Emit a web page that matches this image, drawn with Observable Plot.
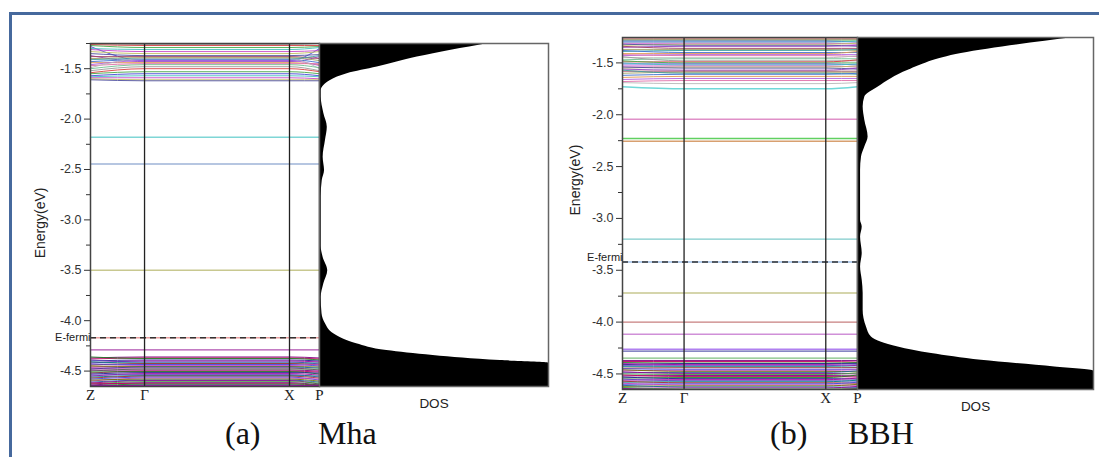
<!DOCTYPE html>
<html>
<head>
<meta charset="utf-8">
<script src="https://cdn.jsdelivr.net/npm/d3@7"></script>
<script src="https://cdn.jsdelivr.net/npm/@observablehq/plot@0.6"></script>
<style>
  html, body { margin: 0; padding: 0; background: #fff; }
  #root { position: relative; width: 1099px; height: 457px; overflow: hidden; background: #fff; }
  .frame-top { position: absolute; left: 9px; top: 12px; width: 1100px; height: 3px; background: #46699d; }
  .frame-left { position: absolute; left: 9px; top: 12px; width: 3px; height: 460px; background: #46699d; }
  .pl { position: absolute; top: 0; }
  .cap { position: absolute; font-family: "Liberation Serif", "Times New Roman", serif; font-size: 32px; line-height: 32px; color: #111; white-space: nowrap; }
</style>
</head>
<body>
<div id="root">
  <div class="frame-top"></div>
  <div class="frame-left"></div>
</div>
<script>
// ---------- data ----------
const kLabels = ["Z", "Γ", "X", "P"];
const kPosMha = [0, 0.236, 0.869, 1];
const kPosBbh = [0, 0.262, 0.865, 1];
const yTicks = [-4.5, -4.0, -3.5, -3.0, -2.5, -2.0, -1.5];
const yMinorTicks = [-4.75, -4.25, -3.75, -3.25, -2.75, -2.25, -1.75, -1.25];

const fermiMha = -4.17;
const fermiBbh = -3.42;

// bands: energy at Z, at Γ (= X, flat Γ–X), at P
const mhaBandsUpper = [
  [-1.25,-1.26,-1.25],[-1.26,-1.27,-1.27],[-1.27,-1.29,-1.28],[-1.28,-1.42,-1.30],
  [-1.30,-1.31,-1.29],[-1.31,-1.33,-1.32],[-1.33,-1.35,-1.33],[-1.35,-1.37,-1.36],
  [-1.37,-1.43,-1.38],[-1.38,-1.38,-1.40],[-1.40,-1.39,-1.42],[-1.41,-1.40,-1.37],
  [-1.43,-1.41,-1.44],[-1.44,-1.44,-1.46],[-1.46,-1.42,-1.47],[-1.47,-1.45,-1.45],
  [-1.49,-1.40,-1.50],[-1.50,-1.46,-1.49],[-1.52,-1.48,-1.52],[-1.54,-1.50,-1.53],
  [-1.55,-1.53,-1.55],[-1.57,-1.55,-1.57],[-1.58,-1.57,-1.58],[-1.59,-1.59,-1.60],
  [-1.60,-1.61,-1.61],[-1.61,-1.62,-1.62]
];
const mhaBandsLower = [
  [-4.37,-4.36,-4.37],[-4.38,-4.37,-4.38],[-4.36,-4.375,-4.39],[-4.40,-4.39,-4.40],
  [-4.42,-4.40,-4.41],[-4.39,-4.41,-4.43],[-4.41,-4.42,-4.42],[-4.44,-4.425,-4.44],
  [-4.43,-4.435,-4.45],[-4.46,-4.445,-4.43],[-4.45,-4.455,-4.46],[-4.48,-4.46,-4.47],
  [-4.47,-4.47,-4.49],[-4.50,-4.48,-4.48],[-4.49,-4.49,-4.50],[-4.52,-4.50,-4.51],
  [-4.51,-4.505,-4.53],[-4.53,-4.515,-4.52],[-4.55,-4.525,-4.54],[-4.54,-4.535,-4.56],
  [-4.56,-4.545,-4.55],[-4.57,-4.55,-4.57],[-4.58,-4.56,-4.59],[-4.60,-4.57,-4.58],
  [-4.59,-4.58,-4.60],[-4.61,-4.59,-4.61],[-4.62,-4.595,-4.63],[-4.63,-4.605,-4.62],
  [-4.64,-4.615,-4.64],[-4.62,-4.625,-4.645],[-4.645,-4.63,-4.63],[-4.65,-4.64,-4.65],
  [-4.64,-4.645,-4.64]
];
const mhaIsolated = [-2.18, -2.445, -3.50, -4.17, -4.29];

const bbhBandsUpper = [
  [-1.26,-1.26,-1.26],[-1.27,-1.27,-1.27],[-1.28,-1.28,-1.28],[-1.29,-1.29,-1.30],
  [-1.30,-1.30,-1.29],[-1.31,-1.31,-1.32],[-1.33,-1.32,-1.31],[-1.32,-1.33,-1.34],
  [-1.35,-1.34,-1.33],[-1.34,-1.36,-1.36],[-1.37,-1.37,-1.38],[-1.39,-1.38,-1.37],
  [-1.38,-1.40,-1.40],[-1.41,-1.41,-1.39],[-1.43,-1.42,-1.42],[-1.42,-1.43,-1.44],
  [-1.45,-1.45,-1.43],[-1.47,-1.46,-1.46],[-1.44,-1.48,-1.48],[-1.49,-1.49,-1.47],
  [-1.48,-1.50,-1.50],[-1.51,-1.51,-1.52],[-1.50,-1.52,-1.51],[-1.53,-1.53,-1.54],
  [-1.55,-1.54,-1.53],[-1.54,-1.55,-1.56],[-1.56,-1.57,-1.55],[-1.58,-1.58,-1.58],
  [-1.60,-1.59,-1.59],[-1.57,-1.60,-1.61],[-1.62,-1.61,-1.60],[-1.64,-1.63,-1.63],
  [-1.66,-1.65,-1.65],[-1.68,-1.67,-1.67],[-1.69,-1.70,-1.69]
];
const bbhBandsLower = [
  [-4.37,-4.37,-4.37],[-4.38,-4.38,-4.385],[-4.39,-4.395,-4.39],[-4.41,-4.40,-4.40],
  [-4.40,-4.41,-4.42],[-4.42,-4.42,-4.41],[-4.43,-4.43,-4.435],[-4.445,-4.44,-4.44],
  [-4.45,-4.455,-4.455],[-4.47,-4.465,-4.46],[-4.46,-4.475,-4.48],[-4.49,-4.485,-4.47],
  [-4.48,-4.495,-4.50],[-4.50,-4.505,-4.49],[-4.52,-4.515,-4.52],[-4.51,-4.525,-4.53],
  [-4.54,-4.535,-4.51],[-4.53,-4.545,-4.55],[-4.56,-4.555,-4.54],[-4.55,-4.565,-4.57],
  [-4.58,-4.575,-4.56],[-4.57,-4.585,-4.59],[-4.60,-4.595,-4.58],[-4.59,-4.605,-4.61],
  [-4.62,-4.615,-4.60],[-4.61,-4.625,-4.63],[-4.64,-4.635,-4.62],[-4.63,-4.645,-4.64],
  [-4.645,-4.65,-4.645]
];
const bbhIsolatedZ = [-1.73, -2.043, -2.229, -2.255, -3.20, -3.42, -3.719, -4.00, -4.117, -4.262, -4.28, -4.347];
const bbhIsolatedG = [-1.75, -2.043, -2.229, -2.255, -3.20, -3.42, -3.719, -4.00, -4.117, -4.262, -4.28, -4.347];

// density of states (arbitrary units 0–100) versus energy
const mhaDosE = [-4.653,-4.42,-4.396,-4.346,-4.297,-4.228,-4.13,-4.03,-3.932,-3.77,-3.634,-3.504,-3.372,-3.265,-2.769,-2.61,-2.51,-2.378,-2.212,-2.08,-1.944,-1.782,-1.716,-1.666,-1.616,-1.55,-1.484,-1.385,-1.25];
const mhaDosV = [100,100,79,49.6,29.4,16.2,6.2,2.6,1.1,0.75,1.9,3.6,1.6,0.75,0.75,1.2,2.2,1.6,2.6,3.4,1.9,0.75,0.75,1.9,4.8,12.1,25.2,42.7,73.8];
const bbhDosE = [-4.65,-4.471,-4.432,-4.368,-4.303,-4.24,-4.143,-4.047,-3.886,-3.722,-3.596,-3.468,-3.336,-3.178,-3.082,-3.017,-2.535,-2.407,-2.31,-2.214,-2.053,-1.924,-1.828,-1.732,-1.57,-1.409,-1.255];
const bbhDosV = [100,100,83.6,52.5,31.4,17.2,5.9,3.8,2.4,2.4,2.0,1.3,2.0,1.3,2.0,1.3,1.3,1.7,3.1,4.5,3.1,2.4,3.1,8.8,21.5,44,92];

// ---------- styles ----------
const paletteUpper = ["#9a9a9a","#d84040","#48a848","#4848d8","#48c0c0","#c848c8","#c0c060","#5050a0",
                      "#9040c0","#a04060","#a0a060","#40a0a0","#4070d0","#e09a50","#b060e0","#e070a8",
                      "#b8b8b8","#70c090"];
const paletteLower = ["#800080","#c00060","#208020","#202090","#a000a0","#6040c0","#008080","#a03030",
                      "#4040e0","#c040c0","#707000","#2060a0","#900090","#40a040"];
const mhaIsoColors = ["#7fd6d6","#9fb4d8","#c8c890","#e8a0a0","#b050b0"];
const bbhIsoColors = ["#70d8d8","#e090c8","#60d060","#d8a070","#80cccc","#a0c0e8","#c8c890","#c88080","#d090d8","#b080f0","#6060b0","#80c080"];

const sans = "'Liberation Sans', Arial, sans-serif";
const serif = "'Liberation Serif', 'Times New Roman', serif";

function buildPoints(upper, lower, isoZ, isoG, isoColors, kPos) {
  const pts = [];
  let id = 0;
  const addBand = (b, c, w) => {
    [b[0], b[1], b[1], b[2]].forEach((e, j) => pts.push({id, k: kPos[j], e, c, w}));
    id++;
  };
  upper.forEach((b, i) => addBand(b, paletteUpper[i % paletteUpper.length], 1));
  lower.forEach((b, i) => addBand(b, paletteLower[i % paletteLower.length], 1));
  isoZ.forEach((ez, i) => addBand([ez, isoG[i], ez], isoColors[i], 1.4));
  return pts;
}

function bandPlot({pts, kPos, fermi, width, marginLeft, marginTop, plotH, yDomain, labelE, labelDx, fermiDy}) {
  const kMap = new Map(kPos.map((k, i) => [k, kLabels[i]]));
  return Plot.plot({
    width, height: marginTop + plotH + 30,
    marginLeft, marginRight: 1, marginTop, marginBottom: 30,
    style: {fontFamily: sans, fontSize: "12.5px", color: "#333", background: "none", overflow: "visible"},
    color: {type: "identity"},
    x: {domain: [0, 1], axis: null},
    y: {domain: yDomain, axis: null},
    marks: [
      Plot.line(pts.filter(d => d.w === 1), {x: "k", y: "e", z: "id", stroke: "c", strokeWidth: 1, strokeOpacity: 0.9, curve: "monotone-x"}),
      Plot.line(pts.filter(d => d.w !== 1), {x: "k", y: "e", z: "id", stroke: "c", strokeWidth: 1.4, curve: "monotone-x"}),
      Plot.ruleY([fermi], {stroke: "#333", strokeWidth: 1.5, strokeDasharray: "6,4"}),
      Plot.ruleX(kPos.slice(1, 3), {stroke: "#222", strokeWidth: 1.3}),
      Plot.frame({stroke: "#444", strokeWidth: 1.5}),
      Plot.axisY(yTicks, {tickSize: 6, tickPadding: 3, tickFormat: d => d.toFixed(1), label: null, fontSize: 12.5, stroke: "#333"}),
      Plot.axisY(yMinorTicks.filter(t => t >= yDomain[0] && t <= yDomain[1]), {tickSize: 4, tickFormat: () => "", label: null, stroke: "#333"}),
      Plot.axisX(kPos, {tickSize: 0, tickPadding: 3, tickFormat: d => kMap.get(d), label: null, fontFamily: serif, fontSize: 15, fill: "#222"}),
      Plot.text(["E-fermi"], {frameAnchor: "left", y: [fermi], textAnchor: "end", dx: 0, dy: fermiDy, fontSize: 11, fill: "#222"}),
      Plot.text(["Energy(eV)"], {frameAnchor: "left", y: [labelE], dx: labelDx, rotate: -90, textAnchor: "middle", fontSize: 14, fill: "#222"})
    ]
  });
}

function dosPlot({dosE, dosV, width, marginTop, marginBottom, yDomain}) {
  const dos = dosE.map((e, i) => ({e, v: dosV[i]})).sort((a, b) => a.e - b.e);
  return Plot.plot({
    width, height: 430,
    marginLeft: 0, marginRight: 2, marginTop, marginBottom,
    style: {fontFamily: sans, fontSize: "13.5px", color: "#222", background: "none", overflow: "visible"},
    x: {domain: [0, 100], axis: null},
    y: {domain: yDomain, axis: null},
    marks: [
      Plot.areaX(dos, {x: "v", y: "e", fill: "black", curve: "monotone-y", clip: true}),
      Plot.frame({stroke: "#666", strokeWidth: 1.5}),
      Plot.text(["DOS"], {frameAnchor: "bottom", dy: 21, fontSize: 13.5, fill: "#222"})
    ]
  });
}

const root = document.getElementById("root");
function place(node, left) {
  node.classList.add("pl");
  node.style.left = left + "px";
  root.appendChild(node);
}

const domA = [-4.653, -1.25];
const domB = [-4.65, -1.255];

place(bandPlot({
  pts: buildPoints(mhaBandsUpper, mhaBandsLower, mhaIsolated, mhaIsolated, mhaIsoColors, kPosMha),
  kPos: kPosMha, fermi: fermiMha, width: 320, marginLeft: 90, marginTop: 43, plotH: 343,
  yDomain: domA, labelE: -3.03, labelDx: -50, fermiDy: 0
}), 0);
place(dosPlot({dosE: mhaDosE, dosV: mhaDosV, width: 231, marginTop: 43, marginBottom: 44, yDomain: domA}), 319);

place(bandPlot({
  pts: buildPoints(bbhBandsUpper, bbhBandsLower, bbhIsolatedZ, bbhIsolatedG, bbhIsoColors, kPosBbh),
  kPos: kPosBbh, fermi: fermiBbh, width: 308, marginLeft: 72, marginTop: 37, plotH: 352,
  yDomain: domB, labelE: -2.63, labelDx: -47, fermiDy: -5
}), 550);
place(dosPlot({dosE: bbhDosE, dosV: bbhDosV, width: 238, marginTop: 37, marginBottom: 41, yDomain: domB}), 857);

// captions
[["(a)", 225], ["Mha", 318], ["(b)", 770], ["BBH", 848]].forEach(([t, x]) => {
  const d = document.createElement("div");
  d.className = "cap";
  d.textContent = t;
  d.style.left = x + "px";
  d.style.top = "417px";
  root.appendChild(d);
});
</script>
</body>
</html>
